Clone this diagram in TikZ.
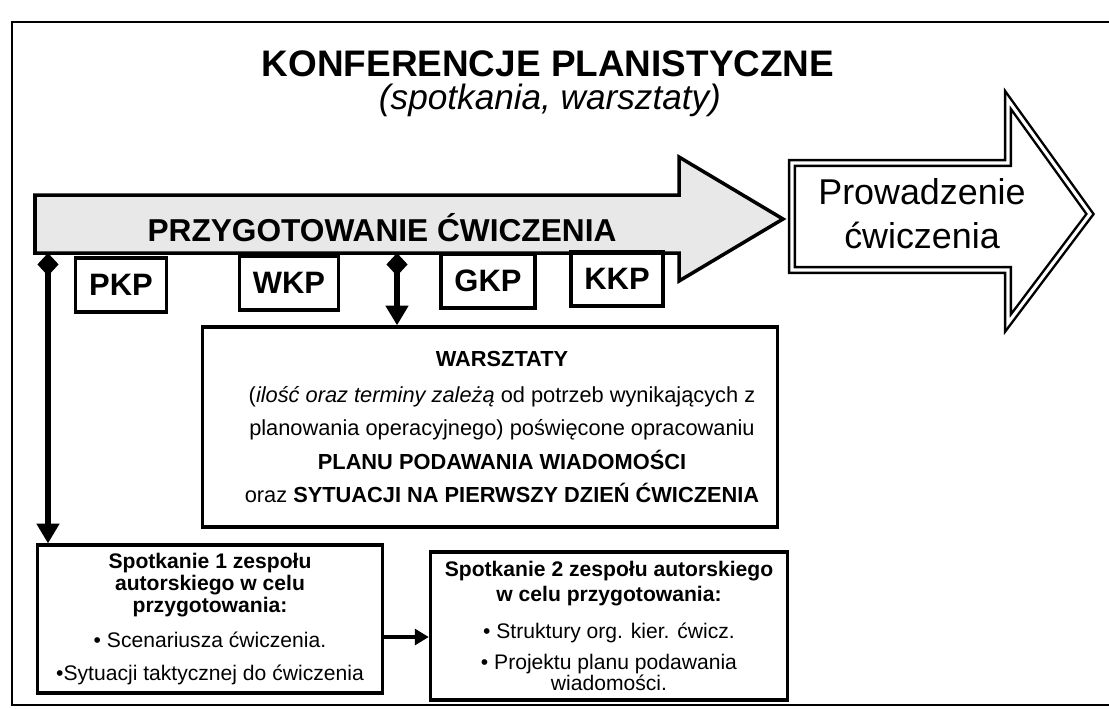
\documentclass[tikz,border=0pt]{standalone}
\usepackage{fontspec}
\setmainfont{Liberation Sans}
\usetikzlibrary{positioning,arrows.meta}

\begin{document}
\begin{tikzpicture}[
		x=0.01cm, y=-0.01cm,
		node distance=1em,
		box/.style={draw, line width=0.9pt, inner sep=0pt, align=center},
		tag/.style={box, minimum height=0.54cm, font=\bfseries\fontsize{8.8}{10}\selectfont},
		conn/.style={line width=1.5pt, {Diamond[length=6.5pt,width=6pt]}-{Triangle[length=5.6pt,width=6.2pt]}},
		flow/.style={line width=1.3pt, -{Triangle[length=4pt,width=4.5pt]}},
	]
		\useasboundingbox (0,0) rectangle (1109,708);
		\draw[line width=0.6pt] (1109,22) -- (12,22) -- (12,705) -- (1109,705);

		\node[inner sep=0pt, font=\bfseries\fontsize{10.5}{12}\selectfont] (title) at (548,64) {KONFERENCJE PLANISTYCZNE};
		\node[inner sep=0pt, font=\itshape\fontsize{10}{12}\selectfont] (subtitle) at (550,100) {(spotkania, warsztaty)};

		% przygotowanie
		\draw[line width=1pt, fill=gray!18] (35,195) -- (679,195) -- (679,157) -- (783,219) -- (679,281) -- (679,253) -- (35,253) -- cycle;
		\node[font=\bfseries\fontsize{9}{10}\selectfont] (prep) at (382,228) {PRZYGOTOWANIE ĆWICZENIA};

		% prowadzenie
		\draw[line width=0.7pt, double, double distance=0.9pt] (792,163) -- (1008,163) -- (1008,100) -- (1090,214) -- (1008,323) -- (1008,270) -- (792,270) -- cycle;
		\node[font=\fontsize{10.2}{12.6}\selectfont, align=center] (conduct) at (922,214) {Prowadzenie\\ćwiczenia};

		\node[tag, minimum width=0.91cm] (pkp) at (121,285) {PKP};
		\node[tag, minimum width=0.99cm] (wkp) at (289,283) {WKP};
		\node[tag, minimum width=0.94cm] (gkp) at (488,281) {GKP};
		\node[tag, minimum width=0.92cm] (kkp) at (617,279) {KKP};

		% warsztaty
		\node[box, minimum width=5.75cm, minimum height=2cm] (work) at (490,427) {};
		\node[font=\fontsize{6.2}{9.5}\selectfont, align=center] (worktext) at (502,427)
			{\textbf{WARSZTATY}\\[0.8pt](\textit{ilość oraz terminy zależą} od potrzeb wynikających z\\planowania operacyjnego) poświęcone opracowaniu\\\textbf{PLANU PODAWANIA WIADOMOŚCI}\\oraz \textbf{SYTUACJI NA PIERWSZY DZIEŃ ĆWICZENIA}};

		% spotkania
		\node[box, minimum width=3.45cm, minimum height=1.48cm, font=\fontsize{6}{6.2}\selectfont] (meet1) at (210,619)
			{\textbf{Spotkanie 1 zespołu}\\\textbf{autorskiego w celu}\\\textbf{przygotowania:}\\[3.8pt]• Scenariusza ćwiczenia.\\[3.2pt]•Sytuacji taktycznej do ćwiczenia};
		\node[box, minimum width=3.57cm, minimum height=1.48cm, font=\fontsize{6}{6.2}\selectfont] (meet2) at (609,626)
			{\textbf{Spotkanie 2 zespołu autorskiego}\\[0.9pt]\textbf{w celu przygotowania:}\\[4.3pt]• Struktury org. kier. ćwicz.\\[2.6pt]• Projektu planu podawania\\[-0.4pt]wiadomości.};

		\coordinate (lefttap) at (48,253);
		\coordinate (midtap) at (397,253);
		\draw[conn] (lefttap) -- (lefttap |- meet1.north);
		\draw[conn] (midtap) -- (midtap |- work.north);
		\draw[flow] (meet1.east |- 0,637) -- (meet2.west |- 0,637);
	\end{tikzpicture}
\end{document}
